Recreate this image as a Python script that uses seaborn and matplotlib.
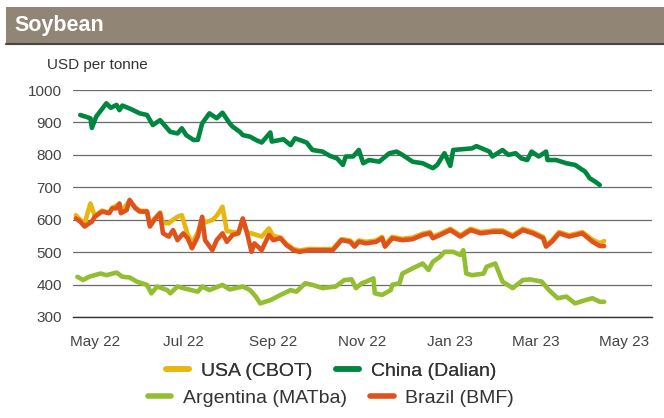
import pandas as pd
import seaborn as sns
import matplotlib.pyplot as plt
import matplotlib.dates as mdates
from matplotlib.lines import Line2D
from matplotlib.patches import Rectangle

# Values (USD per tonne)
china_dates = ["2022-04-21", "2022-04-28", "2022-04-29", "2022-05-02", "2022-05-09", "2022-05-12", "2022-05-16", "2022-05-18", "2022-05-20", "2022-05-25",
               "2022-06-01", "2022-06-06", "2022-06-10", "2022-06-15", "2022-06-22", "2022-06-27", "2022-06-30", "2022-07-03", "2022-07-08", "2022-07-11",
               "2022-07-14", "2022-07-19", "2022-07-24", "2022-07-28", "2022-08-02", "2022-08-04", "2022-08-09", "2022-08-11", "2022-08-16", "2022-08-20",
               "2022-08-24", "2022-08-30", "2022-08-31", "2022-09-08", "2022-09-13", "2022-09-16", "2022-09-24", "2022-09-28", "2022-10-05", "2022-10-10",
               "2022-10-15", "2022-10-19", "2022-10-21", "2022-10-26", "2022-10-30", "2022-11-02", "2022-11-06", "2022-11-13", "2022-11-20", "2022-11-25",
               "2022-11-29", "2022-12-06", "2022-12-13", "2022-12-20", "2022-12-23", "2022-12-28", "2023-01-01", "2023-01-03", "2023-01-16", "2023-01-19",
               "2023-01-28", "2023-01-30", "2023-02-06", "2023-02-10", "2023-02-15", "2023-02-19", "2023-02-23", "2023-02-26", "2023-03-03", "2023-03-08",
               "2023-03-09", "2023-03-15", "2023-03-22", "2023-03-28", "2023-04-04", "2023-04-07", "2023-04-11", "2023-04-14"]
china_vals = [923, 913, 883, 918, 959, 945, 954, 938, 952, 943,
              928, 923, 892, 907, 871, 866, 882, 861, 846, 846,
              897, 928, 913, 930, 897, 887, 871, 861, 856, 846,
              838, 869, 841, 848, 830, 851, 838, 815, 810, 797,
              789, 769, 795, 795, 815, 774, 784, 779, 805, 810,
              800, 779, 774, 759, 769, 805, 766, 815, 820, 827,
              810, 795, 815, 800, 805, 789, 784, 810, 795, 810,
              784, 784, 774, 769, 748, 728, 717, 707]

brazil_dates = ["2022-04-18", "2022-04-21", "2022-04-24", "2022-04-29", "2022-05-01", "2022-05-06", "2022-05-11", "2022-05-13", "2022-05-16", "2022-05-18",
                "2022-05-19", "2022-05-23", "2022-05-25", "2022-05-29", "2022-06-01", "2022-06-06", "2022-06-08", "2022-06-11", "2022-06-15", "2022-06-17",
                "2022-06-21", "2022-06-24", "2022-06-27", "2022-07-01", "2022-07-04", "2022-07-07", "2022-07-11", "2022-07-14", "2022-07-16", "2022-07-21",
                "2022-07-24", "2022-07-28", "2022-07-31", "2022-08-04", "2022-08-08", "2022-08-11", "2022-08-14", "2022-08-17", "2022-08-19", "2022-08-24",
                "2022-08-29", "2022-09-01", "2022-09-06", "2022-09-10", "2022-09-15", "2022-09-19", "2022-09-26", "2022-10-05", "2022-10-12", "2022-10-18",
                "2022-10-24", "2022-10-27", "2022-10-30", "2022-11-04", "2022-11-11", "2022-11-15", "2022-11-17", "2022-11-22", "2022-11-29", "2022-12-06",
                "2022-12-13", "2022-12-18", "2022-12-20", "2022-12-25", "2023-01-01", "2023-01-08", "2023-01-15", "2023-01-22", "2023-01-31", "2023-02-06",
                "2023-02-13", "2023-02-20", "2023-02-27", "2023-03-06", "2023-03-08", "2023-03-12", "2023-03-17", "2023-03-24", "2023-04-02", "2023-04-09",
                "2023-04-14", "2023-04-17"]
brazil_vals = [604, 594, 579, 594, 609, 625, 620, 635, 635, 650,
               620, 630, 661, 635, 625, 625, 579, 599, 620, 558,
               548, 568, 537, 558, 543, 512, 548, 609, 537, 506,
               537, 558, 532, 553, 558, 604, 558, 501, 527, 506,
               553, 537, 543, 522, 506, 501, 506, 506, 506, 537,
               532, 517, 532, 527, 532, 543, 517, 543, 537, 540,
               553, 558, 543, 553, 568, 548, 568, 558, 563, 563,
               548, 568, 558, 543, 517, 532, 558, 548, 558, 532,
               519, 519]

usa_dates = ["2022-04-18", "2022-04-21", "2022-04-24", "2022-04-28", "2022-05-01", "2022-05-06", "2022-05-11", "2022-05-13", "2022-05-18", "2022-05-19",
             "2022-05-25", "2022-05-29", "2022-06-01", "2022-06-06", "2022-06-08", "2022-06-11", "2022-06-15", "2022-06-17", "2022-06-21", "2022-06-24",
             "2022-06-27", "2022-06-30", "2022-07-04", "2022-07-07", "2022-07-11", "2022-07-14", "2022-07-16", "2022-07-21", "2022-07-24", "2022-07-28",
             "2022-07-31", "2022-08-04", "2022-08-08", "2022-08-11", "2022-08-14", "2022-08-17", "2022-08-24", "2022-08-29", "2022-09-01", "2022-09-06",
             "2022-09-10", "2022-09-15", "2022-09-19", "2022-09-26", "2022-10-05", "2022-10-12", "2022-10-18", "2022-10-24", "2022-10-27", "2022-10-30",
             "2022-11-04", "2022-11-11", "2022-11-15", "2022-11-17", "2022-11-22", "2022-11-29", "2022-12-06", "2022-12-13", "2022-12-18", "2022-12-20",
             "2022-12-25", "2023-01-01", "2023-01-08", "2023-01-15", "2023-01-22", "2023-01-31", "2023-02-06", "2023-02-13", "2023-02-20", "2023-02-27",
             "2023-03-06", "2023-03-08", "2023-03-12", "2023-03-17", "2023-03-24", "2023-04-02", "2023-04-09", "2023-04-14", "2023-04-17"]
usa_vals = [614, 600, 588, 650, 612, 628, 622, 637, 648, 624,
            658, 638, 628, 627, 585, 603, 622, 590, 589, 600,
            609, 614, 555, 528, 560, 604, 592, 599, 612, 640,
            565, 562, 560, 602, 560, 558, 548, 573, 550, 545,
            526, 510, 505, 510, 509, 510, 540, 536, 522, 536,
            532, 536, 547, 522, 547, 541, 545, 557, 562, 548,
            557, 572, 552, 572, 562, 567, 567, 552, 572, 562,
            547, 521, 536, 562, 552, 562, 538, 528, 534]

argentina_dates = ["2022-04-19", "2022-04-23", "2022-04-27", "2022-05-05", "2022-05-09", "2022-05-16", "2022-05-20", "2022-05-25", "2022-05-30", "2022-06-06",
                   "2022-06-09", "2022-06-13", "2022-06-20", "2022-06-22", "2022-06-27", "2022-07-01", "2022-07-11", "2022-07-14", "2022-07-19", "2022-07-28",
                   "2022-08-02", "2022-08-11", "2022-08-16", "2022-08-20", "2022-08-23", "2022-08-30", "2022-09-06", "2022-09-13", "2022-09-17", "2022-09-23",
                   "2022-09-28", "2022-10-05", "2022-10-14", "2022-10-20", "2022-10-25", "2022-10-28", "2022-11-01", "2022-11-04", "2022-11-09", "2022-11-10",
                   "2022-11-15", "2022-11-21", "2022-11-22", "2022-11-27", "2022-11-29", "2022-12-06", "2022-12-13", "2022-12-17", "2022-12-20", "2022-12-25",
                   "2022-12-28", "2023-01-03", "2023-01-08", "2023-01-10", "2023-01-12", "2023-01-16", "2023-01-24", "2023-01-26", "2023-02-01", "2023-02-06",
                   "2023-02-13", "2023-02-20", "2023-02-25", "2023-03-05", "2023-03-10", "2023-03-16", "2023-03-22", "2023-03-28", "2023-04-04", "2023-04-09",
                   "2023-04-14", "2023-04-17"]
argentina_vals = [424, 414, 424, 434, 429, 437, 424, 422, 409, 399,
                  373, 394, 383, 373, 394, 389, 378, 394, 383, 399,
                  385, 394, 383, 363, 342, 352, 368, 383, 378, 404,
                  399, 389, 394, 414, 416, 389, 404, 409, 419, 373,
                  368, 383, 399, 404, 434, 450, 465, 445, 470, 486,
                  501, 501, 491, 506, 434, 429, 434, 455, 465, 409,
                  389, 414, 416, 409, 383, 358, 363, 342, 352, 358,
                  347, 347]

series = [
    ("China (Dalian)", china_dates, china_vals, "#00873f"),
    ("Argentina (MATba)", argentina_dates, argentina_vals, "#94be32"),
    ("USA (CBOT)", usa_dates, usa_vals, "#e9b50f"),
    ("Brazil (BMF)", brazil_dates, brazil_vals, "#e0521c"),
]

sns.set_style("white")
plt.rcParams["font.family"] = ["Liberation Sans", "DejaVu Sans"]

fig = plt.figure(figsize=(6.64, 4.18), dpi=100)

# Title bar
fig.patches.append(Rectangle((6 / 664, 1 - 43 / 418), 1, 36 / 418, transform=fig.transFigure,
                             facecolor="#918676", edgecolor="none"))
fig.add_artist(Line2D([6 / 664, 1], [1 - 43.5 / 418, 1 - 43.5 / 418], transform=fig.transFigure,
                      color="#4a4540", lw=1.5))
fig.text(14 / 664, 1 - 25 / 418, "Soybean", color="white", fontsize=15.5, fontweight="bold",
         va="center", ha="left")

ax = fig.add_axes([73 / 664, 1 - 317 / 418, (652 - 73) / 664, (317 - 90) / 418])

colors = {}
for name, dates, vals, color in series:
    df = pd.DataFrame({"Date": pd.to_datetime(dates), "USD": vals})
    sns.lineplot(data=df, x="Date", y="USD", ax=ax, color=color, lw=3.3)
    colors[name] = color

ax.set_ylim(300, 1000)
ax.set_yticks(range(300, 1001, 100))
ax.set_xlim(pd.Timestamp("2022-04-16"), pd.Timestamp("2023-05-20"))
ax.xaxis.set_major_locator(mdates.MonthLocator(bymonth=[1, 3, 5, 7, 9, 11]))
ax.xaxis.set_major_formatter(mdates.DateFormatter("%b %y"))
ax.set_xlabel("")
ax.set_ylabel("")

ax.yaxis.grid(True, color="#6a6a6a", lw=0.9)
ax.xaxis.grid(False)
ax.set_axisbelow(True)
for side in ["left", "right", "top"]:
    ax.spines[side].set_visible(False)
ax.spines["bottom"].set_color("#333333")
ax.spines["bottom"].set_linewidth(1.0)

ax.tick_params(axis="x", length=6, width=1, color="#333333", direction="out",
               labelsize=11, labelcolor="#444444", pad=7)
ax.tick_params(axis="y", length=0, labelsize=11, labelcolor="#444444", pad=8)

fig.text(47 / 664, 1 - 65 / 418, "USD per tonne", fontsize=11, color="#333333",
         va="center", ha="left")

# Two legend rows, each centred
def make_legend(names, y):
    handles = [Line2D([0], [0], color=colors[n], lw=4) for n in names]
    leg = fig.legend(handles, names, loc="center", bbox_to_anchor=(0.4985, y), ncol=2,
                     frameon=False, fontsize=14, handlelength=1.2, handletextpad=0.6,
                     columnspacing=1.2, labelcolor="#333333", borderpad=0.2)
    return leg

leg1 = make_legend(["USA (CBOT)", "China (Dalian)"], 1 - 371 / 418)
fig.add_artist(leg1)
make_legend(["Argentina (MATba)", "Brazil (BMF)"], 1 - 398 / 418)

plt.savefig("out.png", dpi=100)
plt.close()
